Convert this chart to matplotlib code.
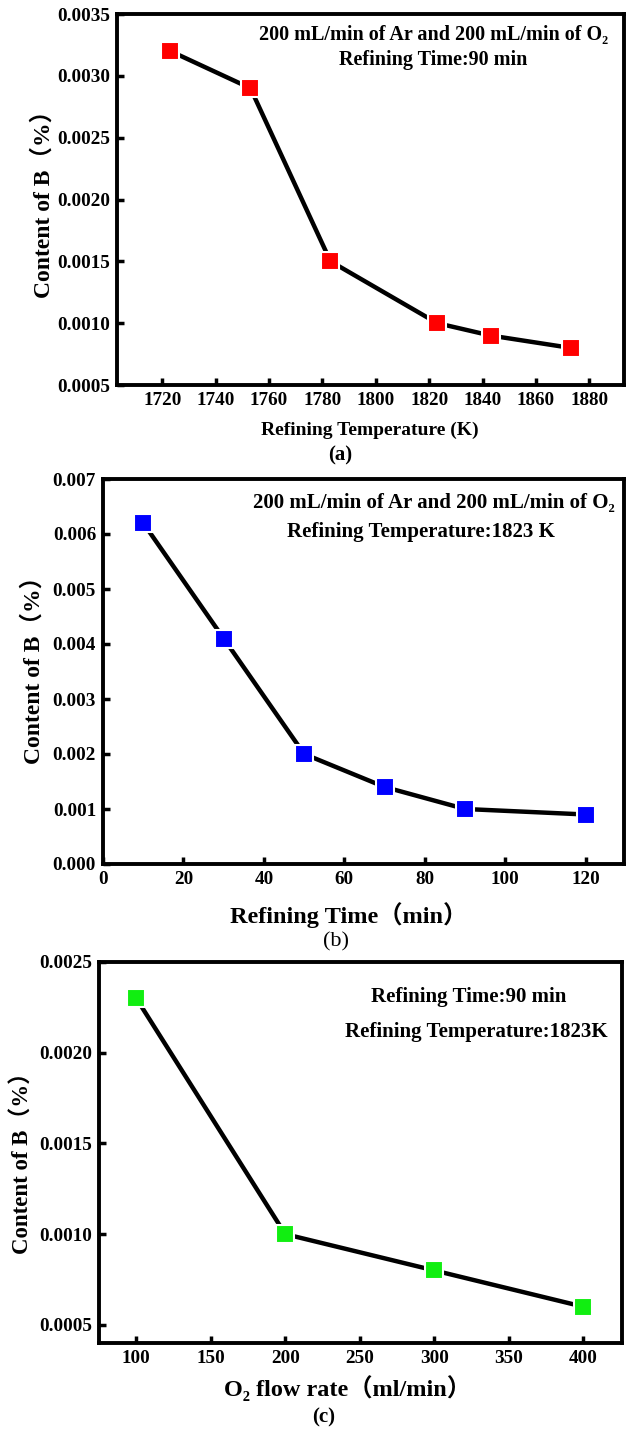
import matplotlib
matplotlib.use("Agg")
import matplotlib.pyplot as plt

# ---------------- data ----------------
temp_x = [1723, 1753, 1783, 1823, 1843, 1873]
temp_b = [0.0032, 0.0029, 0.0015, 0.0010, 0.0009, 0.0008]

time_x = [10, 30, 50, 70, 90, 120]
time_b = [0.0062, 0.0041, 0.0020, 0.0014, 0.0010, 0.0009]

flow_x = [100, 200, 300, 400]
flow_b = [0.0023, 0.0010, 0.0008, 0.0006]

temp_ticks = [1720, 1740, 1760, 1780, 1800, 1820, 1840, 1860, 1880]
temp_yticks = [0.0005, 0.0010, 0.0015, 0.0020, 0.0025, 0.0030, 0.0035]
time_ticks = [0, 20, 40, 60, 80, 100, 120]
time_yticks = [0.000, 0.001, 0.002, 0.003, 0.004, 0.005, 0.006, 0.007]
flow_ticks = [100, 150, 200, 250, 300, 350, 400]
flow_yticks = [0.0005, 0.0010, 0.0015, 0.0020, 0.0025]

# ---------------- style ----------------
FAM = ['Liberation Serif', 'DejaVu Serif', 'Noto Sans CJK SC']
plt.rcParams['font.family'] = FAM
plt.rcParams['font.weight'] = 'bold'
plt.rcParams['axes.labelweight'] = 'bold'

W, H = 626, 1433
fig = plt.figure(figsize=(W / 100, H / 100), dpi=100)


def fx(px):
    return px / W


def fy(py):
    return 1 - py / H


def make_axes(left, right, top, bottom):
    return fig.add_axes([fx(left), fy(bottom), (right - left) / W, (bottom - top) / H])


def style(ax):
    for s in ax.spines.values():
        s.set_linewidth(2.8)
    ax.tick_params(axis='both', which='major', direction='in', length=5, width=2.5,
                   labelsize=13.8, top=False, right=False, pad=5)
    for lab in ax.get_xticklabels() + ax.get_yticklabels():
        lab.set_fontweight('bold')


def draw(ax, x, y, color):
    ax.plot(x, y, '-', color='black', lw=3.2, zorder=2)
    ax.plot(x, y, 's', color=color, ms=13.5, mec='white', mew=1.5, ls='none', zorder=3)


# ---------------- panel (a) ----------------
axa = make_axes(117, 624, 14, 385)
draw(axa, temp_x, temp_b, '#ff0000')
axa.set_xlim(1703, 1893)
axa.set_ylim(0.0005, 0.0035)
axa.set_xticks(temp_ticks)
axa.set_yticks(temp_yticks)
axa.set_yticklabels([f"{v:.4f}" for v in temp_yticks])
style(axa)
axa.set_xlabel('Refining Temperature (K)', fontsize=14, fontweight='bold')
axa.xaxis.set_label_coords(fx(370), fy(430), transform=fig.transFigure)
axa.xaxis.label.set_va('center')
axa.set_ylabel('Content of B（%）', fontsize=17, fontweight='bold')
axa.yaxis.set_label_coords(fx(43), fy(198), transform=fig.transFigure)
axa.yaxis.label.set_va('center')
axa.yaxis.label.set_ha('center')
fig.text(fx(434), fy(35), '200 mL/min of Ar and 200 mL/min of O₂', ha='center', va='center',
         fontsize=14.5, fontweight='bold')
fig.text(fx(433), fy(60), 'Refining Time:90 min', ha='center', va='center',
         fontsize=14.5, fontweight='bold')
fig.text(fx(340), fy(455), '(a)', ha='center', va='center', fontsize=15, fontweight='bold')

# ---------------- panel (b) ----------------
axb = make_axes(103, 624, 479, 864)
draw(axb, time_x, time_b, '#0000ff')
axb.set_xlim(0, 129.5)
axb.set_ylim(0, 0.007)
axb.set_xticks(time_ticks)
axb.set_yticks(time_yticks)
axb.set_yticklabels([f"{v:.3f}" for v in time_yticks])
style(axb)
axb.set_xlabel('Refining Time（min）', fontsize=17.5, fontweight='bold')
axb.xaxis.set_label_coords(fx(349), fy(915), transform=fig.transFigure)
axb.xaxis.label.set_va('center')
axb.set_ylabel('Content of B（%）', fontsize=17, fontweight='bold')
axb.yaxis.set_label_coords(fx(33), fy(664), transform=fig.transFigure)
axb.yaxis.label.set_va('center')
axb.yaxis.label.set_ha('center')
fig.text(fx(434), fy(503), '200 mL/min of Ar and 200 mL/min of O₂', ha='center', va='center',
         fontsize=15, fontweight='bold')
fig.text(fx(421), fy(532), 'Refining Temperature:1823 K', ha='center', va='center',
         fontsize=15, fontweight='bold')
fig.text(fx(336), fy(942), '(b)', ha='center', va='center', fontsize=16, fontweight='normal')

# ---------------- panel (c) ----------------
axc = make_axes(99, 622, 962, 1343)
draw(axc, flow_x, flow_b, '#11ee11')
axc.set_xlim(75, 426)
axc.set_ylim(0.0004, 0.0025)
axc.set_xticks(flow_ticks)
axc.set_yticks(flow_yticks)
axc.set_yticklabels([f"{v:.4f}" for v in flow_yticks])
style(axc)
axc.set_xlabel('O₂ flow rate（ml/min）', fontsize=17.5, fontweight='bold')
axc.xaxis.set_label_coords(fx(347), fy(1388), transform=fig.transFigure)
axc.xaxis.label.set_va('center')
axc.set_ylabel('Content of B（%）', fontsize=16.5, fontweight='bold')
axc.yaxis.set_label_coords(fx(23), fy(1158), transform=fig.transFigure)
axc.yaxis.label.set_va('center')
axc.yaxis.label.set_ha('center')
fig.text(fx(469), fy(997), 'Refining Time:90 min', ha='center', va='center',
         fontsize=15, fontweight='bold')
fig.text(fx(476), fy(1032), 'Refining Temperature:1823K', ha='center', va='center',
         fontsize=15, fontweight='bold')
fig.text(fx(324), fy(1417), '(c)', ha='center', va='center', fontsize=15, fontweight='bold')

fig.savefig('out.png', dpi=100)
